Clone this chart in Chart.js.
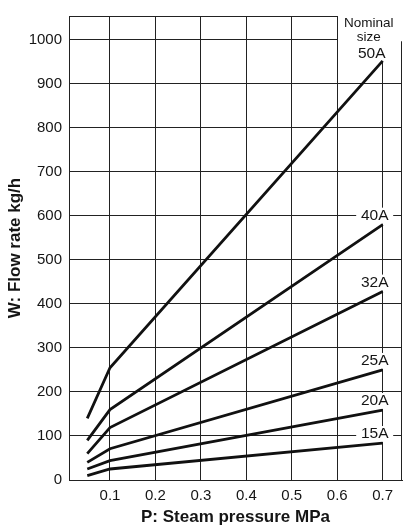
<!DOCTYPE html>
<html>
<head>
<meta charset="utf-8">
<script src="https://cdn.jsdelivr.net/npm/chart.js@4.4.1/dist/chart.umd.min.js"></script>
<style>
  html, body { margin: 0; padding: 0; background: #fff; }
  #wrap { width: 404px; height: 526px; }
</style>
</head>
<body>
<div id="wrap"><canvas id="c" width="404" height="526"></canvas></div>
<script>
// ---- data ----
const pressure = [0.05, 0.1, 0.7];
const seriesNames = ['15A', '20A', '25A', '32A', '40A', '50A'];
const flow15A = [10, 25, 84];
const flow20A = [25, 44, 159];
const flow25A = [40, 71, 250];
const flow32A = [60, 119, 428];
const flow40A = [90, 160, 580];
const flow50A = [140, 255, 952];
const series = [flow15A, flow20A, flow25A, flow32A, flow40A, flow50A];
const xTickValues = [0.1, 0.2, 0.3, 0.4, 0.5, 0.6, 0.7];
const xTickLabels = ['0.1', '0.2', '0.3', '0.4', '0.5', '0.6', '0.7'];
const yTickValues = [0, 100, 200, 300, 400, 500, 600, 700, 800, 900, 1000];
const xTitle = 'P: Steam pressure MPa';
const yTitle = 'W: Flow rate kg/h';
const legendTitle = ['Nominal', 'size'];

// ---- styles ----
const FONT = '"Liberation Sans", Arial, Helvetica, sans-serif';
const gridColor = '#222';
const textColor = '#151515';

const labelPlugin = {
  id: 'seriesLabels',
  beforeDatasetsDraw(chart) {
    const { ctx, chartArea: a, scales: { x, y } } = chart;
    ctx.save();
    ctx.strokeStyle = gridColor;
    ctx.lineWidth = 1;
    const top = Math.round(a.top) + 0.5;
    const right = Math.round(a.right) - 0.5;
    ctx.beginPath();
    ctx.moveTo(a.left, top); ctx.lineTo(right, top);
    ctx.moveTo(right, a.top); ctx.lineTo(right, a.bottom);
    ctx.stroke();

    ctx.fillStyle = '#fff';
    const x6 = x.getPixelForValue(0.6);
    const y1000 = y.getPixelForValue(1000);
    ctx.fillRect(Math.round(x6) + 1, 0, chart.width - Math.round(x6) - 1, y1000 + 1.5);
    seriesNames.forEach((name, i) => {
      const s = series[i];
      const last = s.length - 1;
      const isTop = i === series.length - 1;
      const cx = x.getPixelForValue(pressure[last]) - (isTop ? 11 : 8);
      const cy = y.getPixelForValue(s[last]) - (isTop ? 7 : 9);
      if (isTop) {
        ctx.fillRect(cx - 18.5, y1000, 37, cy + 8 - y1000);
      } else {
        ctx.fillRect(cx - 18.5, cy - 8, 37, 16);
      }
    });
    ctx.restore();
  },
  afterDatasetsDraw(chart) {
    const { ctx, chartArea: a, scales: { x, y } } = chart;
    ctx.save();
    ctx.fillStyle = textColor;
    ctx.textAlign = 'center';
    ctx.textBaseline = 'middle';
    const x7 = x.getPixelForValue(0.7);
    ctx.font = '13.5px ' + FONT;
    ctx.fillText(legendTitle[0], x7 - 14, a.top + 7.5);
    ctx.fillText(legendTitle[1], x7 - 14, a.top + 21);
    ctx.font = '15.5px ' + FONT;
    seriesNames.forEach((name, i) => {
      const s = series[i];
      const last = s.length - 1;
      const isTop = i === series.length - 1;
      const cx = x.getPixelForValue(pressure[last]) - (isTop ? 11 : 8);
      const cy = y.getPixelForValue(s[last]) - (isTop ? 7 : 9);
      ctx.fillText(name, cx, cy);
    });
    ctx.restore();
  }
};

const datasets = seriesNames.map((name, i) => ({
  label: name,
  data: pressure.map((p, j) => ({ x: p, y: series[i][j] })),
  borderColor: '#111',
  borderWidth: 2.8,
  pointRadius: 0,
  fill: false,
  tension: 0
}));

new Chart(document.getElementById('c'), {
  type: 'line',
  data: { datasets },
  plugins: [labelPlugin],
  options: {
    responsive: false,
    animation: false,
    devicePixelRatio: 1,
    layout: { padding: { top: 9, right: 2, left: 0, bottom: 0 } },
    plugins: { legend: { display: false }, tooltip: { enabled: false } },
    scales: {
      x: {
        type: 'linear',
        min: 0.0098,
        max: 0.7425,
        afterBuildTicks: (s) => { s.ticks = xTickValues.map(v => ({ value: v })); },
        afterFit: (s) => { s.height = 46; },
        ticks: {
          callback: (v, i) => xTickLabels[i],
          color: textColor,
          font: { family: FONT, size: 15 },
          padding: 7,
          maxRotation: 0,
          autoSkip: false
        },
        grid: { color: gridColor, lineWidth: 1, drawTicks: false },
        border: { color: gridColor, width: 1 },
        title: {
          display: true,
          text: xTitle,
          color: textColor,
          font: { family: FONT, size: 17, weight: 'bold' },
          padding: { top: 0, bottom: -2 }
        }
      },
      y: {
        type: 'linear',
        min: 0,
        max: 1054,
        afterBuildTicks: (s) => { s.ticks = yTickValues.map(v => ({ value: v })); },
        afterFit: (s) => { s.width = 69; },
        ticks: {
          callback: (v) => String(v),
          color: textColor,
          font: { family: FONT, size: 15 },
          padding: 7,
          autoSkip: false
        },
        grid: { color: gridColor, lineWidth: 1, drawTicks: false },
        border: { color: gridColor, width: 1 },
        title: {
          display: true,
          text: yTitle,
          color: textColor,
          font: { family: FONT, size: 17, weight: 'bold' },
          padding: { top: 5, bottom: 0 }
        }
      }
    }
  }
});
</script>
</body>
</html>
